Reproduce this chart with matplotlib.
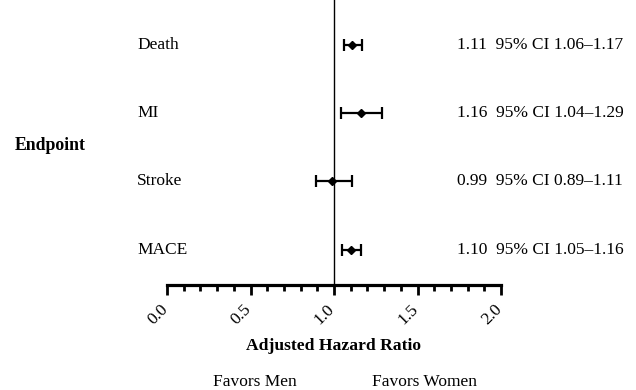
import matplotlib
matplotlib.use("Agg")
import matplotlib.pyplot as plt
import matplotlib.transforms as mtransforms
from matplotlib.ticker import MultipleLocator

endpoints = ["Death", "MI", "Stroke", "MACE"]
hr = [1.11, 1.16, 0.99, 1.10]
ci_low = [1.06, 1.04, 0.89, 1.05]
ci_high = [1.17, 1.29, 1.11, 1.16]
ci_labels = ["1.11  95% CI 1.06\u20131.17", "1.16  95% CI 1.04\u20131.29",
             "0.99  95% CI 0.89\u20131.11", "1.10  95% CI 1.05\u20131.16"]
xticks = [0.0, 0.5, 1.0, 1.5, 2.0]
xticklabels = ["0.0", "0.5", "1.0", "1.5", "2.0"]

plt.rcParams['font.family'] = ['Liberation Serif', 'DejaVu Serif']

fig = plt.figure(figsize=(6.36, 3.9), dpi=100)
ax = fig.add_axes([167/636, 1-284.5/390, 334/636, 284.5/390])

ys = [3, 2, 1, 0]
xerr = [[h - l for h, l in zip(hr, ci_low)], [u - h for h, u in zip(hr, ci_high)]]
ax.errorbar(hr, ys, xerr=xerr, fmt='D', color='black', markersize=4.5,
            elinewidth=1.6, capsize=4, capthick=1.6, zorder=3)
ax.axvline(1.0, color='black', linewidth=1.0, zorder=1)

ax.set_xlim(0, 2)
ax.set_ylim(-0.51, 3.66)
ax.set_yticks([])
for s in ['top', 'right', 'left']:
    ax.spines[s].set_visible(False)
ax.spines['bottom'].set_linewidth(2.3)
ax.set_xticks(xticks)
ax.set_xticklabels(xticklabels, rotation=45, ha='right', fontsize=12.5)
ax.xaxis.set_minor_locator(MultipleLocator(0.1))
ax.tick_params(axis='x', which='major', length=7, width=2, pad=5)
ax.tick_params(axis='x', which='minor', length=4, width=2)
offset = mtransforms.ScaledTranslation(4/100, 0, fig.dpi_scale_trans)
for lbl in ax.get_xticklabels():
    lbl.set_transform(lbl.get_transform() + offset)

trans = mtransforms.blended_transform_factory(fig.transFigure, ax.transData)
for y, name, lab in zip(ys, endpoints, ci_labels):
    ax.text(137/636, y, name, transform=trans, fontsize=12.5, va='center', ha='left')
    ax.text(457/636, y, lab, transform=trans, fontsize=12.5, va='center', ha='left')

fig.text(15/636, 1-145/390, "Endpoint", fontsize=12.8, fontweight='bold', va='center', ha='left')
fig.text(334/636, 1-346/390, "Adjusted Hazard Ratio", fontsize=12.6, fontweight='bold', va='center', ha='center')
fig.text(255/636, 1-382/390, "Favors Men", fontsize=12.5, va='center', ha='center')
fig.text(425/636, 1-382/390, "Favors Women", fontsize=12.5, va='center', ha='center')

fig.savefig("out.png", dpi=100)
